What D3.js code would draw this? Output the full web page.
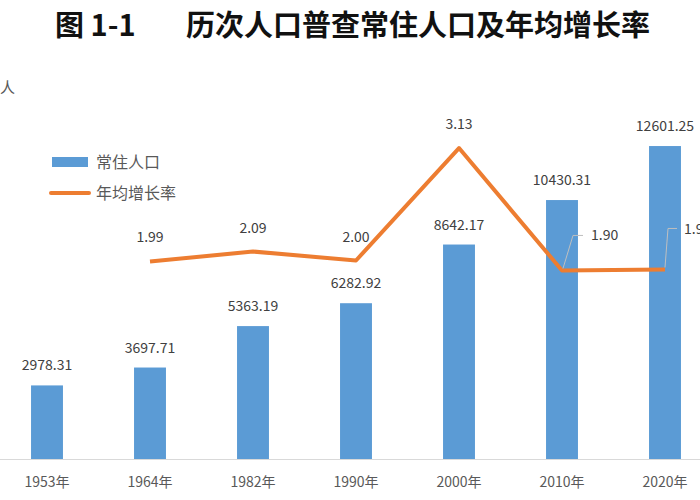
<!DOCTYPE html>
<html>
<meta charset="utf-8" />
<script src="https://d3js.org/d3.v7.min.js"></script>
<style>
  body { margin: 0; background: #fff; }
  text { font-family: "Noto Sans CJK SC", "Noto Sans", sans-serif; }
</style>
<body>
<div id="chart"></div>
<script>
var years = ["1953年", "1964年", "1982年", "1990年", "2000年", "2010年", "2020年"];
var population = [2978.31, 3697.71, 5363.19, 6282.92, 8642.17, 10430.31, 12601.25];
var growthRate = [null, 1.99, 2.09, 2.00, 3.13, 1.90, 1.91];
var legendNames = ["常住人口", "年均增长率"];

var width = 700, height = 500;
var baseY = 459.5, topY = 61.5;
var blue = "#5b9bd5", orange = "#ed7d31";

var svg = d3.select("#chart").append("svg")
  .attr("width", width)
  .attr("height", height);

var x = d3.scaleBand()
  .domain(years)
  .range([-4.5, 716.5])
  .paddingInner(0.69)
  .paddingOuter(0.345);

var yPop = d3.scaleLinear().domain([0, 16000]).range([baseY, topY]);
var yRate = d3.scaleLinear().domain([0, 4]).range([baseY, topY]);

var data = years.map(function(d, i) {
  return { year: d, pop: population[i], rate: growthRate[i] };
});

// title
var title = svg.append("text")
  .attr("y", 36)
  .attr("font-size", 29)
  .attr("font-weight", "bold")
  .attr("fill", "#111");
title.append("tspan").attr("x", 55).text("图 1-1");
title.append("tspan").attr("x", 186).text("历次人口普查常住人口及年均增长率");

// unit (cut at the left edge as in the source image)
svg.append("text")
  .attr("x", 15).attr("y", 93)
  .attr("text-anchor", "end")
  .attr("font-size", 15)
  .attr("fill", "#595959")
  .text("万人");

// bars
svg.append("g").selectAll("rect")
  .data(data)
  .enter().append("rect")
  .attr("x", function(d) { return x(d.year); })
  .attr("width", x.bandwidth())
  .attr("y", function(d) { return yPop(d.pop); })
  .attr("height", function(d) { return baseY - yPop(d.pop); })
  .attr("fill", blue);

// x axis
var xAxis = svg.append("g")
  .attr("transform", "translate(0," + baseY + ")")
  .call(d3.axisBottom(x).tickSize(0).tickPadding(18));
xAxis.select(".domain").remove();
xAxis.selectAll("text")
  .attr("font-size", 14)
  .attr("fill", "#595959")
  .style("font-family", "'Noto Sans CJK SC', sans-serif");
svg.append("line")
  .attr("x1", 0).attr("x2", width)
  .attr("y1", baseY).attr("y2", baseY)
  .attr("stroke", "#d9d9d9");

// bar labels
svg.append("g").selectAll("text")
  .data(data)
  .enter().append("text")
  .attr("x", function(d) { return x(d.year) + x.bandwidth() / 2; })
  .attr("y", function(d) { return yPop(d.pop) - 15; })
  .attr("text-anchor", "middle")
  .attr("font-size", 14)
  .attr("fill", "#404040")
  .text(function(d) { return d.pop.toFixed(2); });

// rate line
var rateData = data.filter(function(d) { return d.rate !== null; });
var cx = function(d) { return x(d.year) + x.bandwidth() / 2; };

svg.append("path")
  .datum(rateData)
  .attr("fill", "none")
  .attr("stroke", orange)
  .attr("stroke-width", 4)
  .attr("stroke-linejoin", "round")
  .attr("d", d3.line()
    .x(cx)
    .y(function(d) { return yRate(d.rate); }));

// rate labels, the last two with leader lines
var leader = {
  "2010年": { dx: 29, dy: -35, lx: [1, 11, 21], ly: [-2, -35, -35] },
  "2020年": { dx: 19, dy: -40, lx: [0, 3, 12], ly: [-2, -41, -41] }
};

rateData.forEach(function(d) {
  var px = cx(d), py = yRate(d.rate);
  var l = leader[d.year];
  if (l) {
    svg.append("polyline")
      .attr("points", l.lx.map(function(v, i) { return (px + v) + "," + (py + l.ly[i]); }).join(" "))
      .attr("fill", "none")
      .attr("stroke", "#bfbfbf")
      .attr("stroke-width", 1);
    svg.append("text")
      .attr("x", px + l.dx)
      .attr("y", py + l.dy + 5)
      .attr("font-size", 14)
      .attr("fill", "#404040")
      .text(d.rate.toFixed(2));
  } else {
    svg.append("text")
      .attr("x", px)
      .attr("y", py - 19)
      .attr("text-anchor", "middle")
      .attr("font-size", 14)
      .attr("fill", "#404040")
      .text(d.rate.toFixed(2));
  }
});

// legend
var legend = svg.append("g");
legend.append("rect")
  .attr("x", 52).attr("y", 157)
  .attr("width", 36).attr("height", 10)
  .attr("fill", blue);
legend.append("line")
  .attr("x1", 51).attr("x2", 89)
  .attr("y1", 193).attr("y2", 193)
  .attr("stroke", orange)
  .attr("stroke-width", 4)
  .attr("stroke-linecap", "round");
legend.selectAll("text")
  .data(legendNames)
  .enter().append("text")
  .attr("x", 96)
  .attr("y", function(d, i) { return 168 + i * 31; })
  .attr("font-size", 16)
  .attr("fill", "#595959")
  .text(function(d) { return d; });
</script>
</body>
</html>
